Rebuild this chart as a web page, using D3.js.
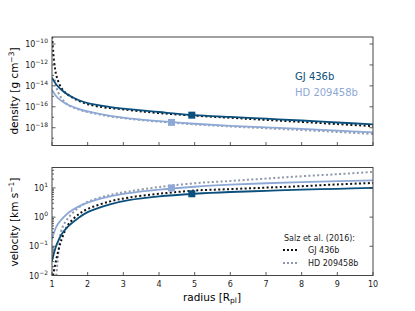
<!DOCTYPE html>
<html>
<head>
<meta charset="utf-8">
<script src="https://cdn.jsdelivr.net/npm/d3@7"></script>
<style>
  body { margin: 0; background: #fff; }
  text { font-family: "DejaVu Sans", sans-serif; }
</style>
</head>
<body>
<svg id="chart" width="415" height="311"></svg>
<script>
// radius grid [R_pl] for the model curves
const radius = [1, 1.13, 1.27, 1.46, 1.74, 2, 2.6, 3.15, 4, 5, 6, 7, 8, 9, 10];

// density, log10 [g cm^-3]
const densGJ = [-13.22, -13.92, -14.4, -14.88, -15.35, -15.65, -16.0, -16.22, -16.5, -16.8, -16.97, -17.14, -17.31, -17.5, -17.68];
const densHD = [-14.4, -15.04, -15.45, -15.83, -16.2, -16.45, -16.85, -17.1, -17.37, -17.62, -17.82, -17.97, -18.12, -18.28, -18.44];

// velocity, log10 [km s^-1]
const velGJ = [-1.5, -0.94, -0.59, -0.31, -0.03, 0.17, 0.43, 0.58, 0.71, 0.8, 0.86, 0.9, 0.94, 0.97, 1.0];
const velHD = [-0.76, -0.31, -0.08, 0.15, 0.36, 0.5, 0.7, 0.82, 0.94, 1.04, 1.11, 1.16, 1.2, 1.23, 1.26];

// Salz et al. (2016) curves, each with its own radius grid
const salzDensGJr = [1.005, 1.02, 1.07, 1.13, 1.27, 1.46, 2, 3.15, 4, 5, 6, 7, 8, 9, 10];
const salzDensGJ = [-9.3, -10.1, -12.0, -13.1, -14.24, -14.88, -15.75, -16.31, -16.6, -16.85, -17.05, -17.25, -17.45, -17.65, -17.85];
const salzDensHDr = [1.08, 1.13, 1.27, 1.46, 1.74, 2, 2.6, 3.15, 4, 5, 6, 7, 8, 9, 10];
const salzDensHD = [-13.4, -14.24, -15.19, -15.85, -16.25, -16.5, -16.9, -17.15, -17.42, -17.68, -17.88, -18.05, -18.22, -18.4, -18.6];
const salzVelGJr = [1.03, 1.13, 1.27, 1.46, 1.74, 2, 2.6, 3.15, 4, 5, 6, 7, 8, 9, 10];
const salzVelGJ = [-2.0, -1.39, -0.76, -0.25, 0.09, 0.28, 0.53, 0.67, 0.8, 0.91, 0.96, 1.01, 1.06, 1.12, 1.17];
const salzVelHDr = [1.12, 1.2, 1.27, 1.46, 1.74, 2, 2.6, 3.15, 4, 5, 6, 7, 8, 9, 10];
const salzVelHD = [-2.0, -1.0, -0.42, -0.02, 0.32, 0.52, 0.75, 0.88, 1.03, 1.16, 1.24, 1.32, 1.4, 1.47, 1.55];

// square markers (sonic point)
const sonicR = [4.92, 4.35];
const sonicDens = [-16.8, -17.49];
const sonicVel = [0.8, 1.0];

const planets = ["GJ 436b", "HD 209458b"];
const xTicks = [1, 2, 3, 4, 5, 6, 7, 8, 9, 10];
const densTicks = [-10, -12, -14, -16, -18];
const densMinor = [-11, -13, -15, -17, -19];
const velTicks = [-2, -1, 0, 1];

const darkBlue = "#0b4f7d", lightBlue = "#8ea8d6", salzGrey = "#8f98aa";

const svg = d3.select("#chart");
const left = 52, right = 373;
const x = d3.scaleLinear().domain([1, 10]).range([left, right]);
const yD = d3.scaleLinear().domain([-19.7, -9.33]).range([145.5, 37]);
const yV = d3.scaleLinear().domain([-2, 1.7]).range([275.5, 167.5]);

function powLabel(sel, e) {
  sel.text("10").append("tspan").attr("dy", -4).style("font-size", "6px").text(String(e).replace("-", "\u2212"));
}

function panel(y, series, ticks, minor, markers) {
  const top = y.range()[1], bot = y.range()[0];
  const g = svg.append("g");
  g.append("clipPath").attr("id", "c" + Math.round(top)).append("rect")
    .attr("x", left).attr("y", top).attr("width", right - left).attr("height", bot - top);

  const plot = g.append("g").attr("clip-path", "url(#c" + Math.round(top) + ")");
  series.forEach(s => {
    const line = d3.line()
      .x((d, i) => x(s.r[i]))
      .y(d => y(d))
      .curve(d3.curveCatmullRom.alpha(0.5));
    plot.append("path").datum(s.values)
      .attr("fill", "none").attr("stroke", s.color)
      .attr("stroke-width", s.dotted ? 2 : 1.8)
      .attr("stroke-dasharray", s.dotted ? "2,2.4" : null)
      .attr("d", line);
  });
  markers.forEach(m => {
    plot.append("rect").attr("x", x(m.r) - 3.5).attr("y", y(m.v) - 3.5)
      .attr("width", 7).attr("height", 7).attr("fill", m.color);
  });

  // ticks, pointing inward
  const tk = g.append("g").attr("stroke", "#333").attr("stroke-width", 0.8);
  xTicks.forEach(t => {
    tk.append("line").attr("x1", x(t)).attr("x2", x(t)).attr("y1", bot).attr("y2", bot - 3.5);
  });
  ticks.forEach(t => {
    tk.append("line").attr("x1", left).attr("x2", left + 3.5).attr("y1", y(t)).attr("y2", y(t));
    tk.append("line").attr("x1", right).attr("x2", right - 3.5).attr("y1", y(t)).attr("y2", y(t));
    g.append("text").attr("x", left - 4).attr("y", y(t) + 3)
      .attr("text-anchor", "end").style("font-size", "8px").attr("fill", "#222")
      .call(powLabel, t);
  });
  minor.filter(t => y(t) > top && y(t) < bot).forEach(t => {
    tk.append("line").attr("x1", left).attr("x2", left + 2).attr("y1", y(t)).attr("y2", y(t));
  });

  g.append("rect").attr("x", left).attr("y", top).attr("width", right - left).attr("height", bot - top)
    .attr("fill", "none").attr("stroke", "#444").attr("stroke-width", 1);
}

// top: density
panel(yD, [
  { r: salzDensHDr, values: salzDensHD, color: salzGrey, dotted: true },
  { r: radius, values: densHD, color: lightBlue },
  { r: salzDensGJr, values: salzDensGJ, color: "#111", dotted: true },
  { r: radius, values: densGJ, color: darkBlue }
], densTicks, densMinor, [
  { r: sonicR[1], v: sonicDens[1], color: lightBlue },
  { r: sonicR[0], v: sonicDens[0], color: darkBlue }
]);

// bottom: velocity
const minorV = [];
velTicks.forEach(e => d3.range(2, 10).forEach(m => minorV.push(e + Math.log10(m))));
panel(yV, [
  { r: salzVelHDr, values: salzVelHD, color: salzGrey, dotted: true },
  { r: radius, values: velHD, color: lightBlue },
  { r: salzVelGJr, values: salzVelGJ, color: "#111", dotted: true },
  { r: radius, values: velGJ, color: darkBlue }
], velTicks, minorV, [
  { r: sonicR[1], v: sonicVel[1], color: lightBlue },
  { r: sonicR[0], v: sonicVel[0], color: darkBlue }
]);

// x tick labels on bottom panel
xTicks.forEach(t => {
  svg.append("text").attr("x", x(t)).attr("y", 287).attr("text-anchor", "middle")
    .style("font-size", "8px").attr("fill", "#222").text(t);
});

// axis labels
const xl = svg.append("text").attr("x", 212).attr("y", 301).attr("text-anchor", "middle").style("font-size", "10.5px");
xl.append("tspan").text("radius [R");
xl.append("tspan").attr("dy", 2).style("font-size", "7.5px").text("pl");
xl.append("tspan").attr("dy", -2).text("]");

const dl = svg.append("text").attr("transform", "translate(18,91) rotate(-90)").attr("text-anchor", "middle").style("font-size", "10.5px");
dl.append("tspan").text("density [g cm");
dl.append("tspan").attr("dy", -4).style("font-size", "7.5px").text("\u22123");
dl.append("tspan").attr("dy", 4).text("]");

const vl = svg.append("text").attr("transform", "translate(18,222) rotate(-90)").attr("text-anchor", "middle").style("font-size", "10.5px");
vl.append("tspan").text("velocity [km s");
vl.append("tspan").attr("dy", -4).style("font-size", "7.5px").text("\u22121");
vl.append("tspan").attr("dy", 4).text("]");

// planet labels in top panel
svg.append("text").attr("x", 295).attr("y", 80).style("font-size", "10px").attr("fill", darkBlue).text(planets[0]);
svg.append("text").attr("x", 295).attr("y", 96).style("font-size", "10px").attr("fill", lightBlue).text(planets[1]);

// legend in bottom panel
const lg = svg.append("g");
lg.append("text").attr("x", 284).attr("y", 241).style("font-size", "8px").attr("fill", "#222").text("Salz et al. (2016):");
[["#111", planets[0], 250], [salzGrey, planets[1], 263]].forEach(([c, name, yy]) => {
  lg.append("line").attr("x1", 283).attr("x2", 297).attr("y1", yy).attr("y2", yy)
    .attr("stroke", c).attr("stroke-width", 2).attr("stroke-dasharray", "2,2");
  lg.append("text").attr("x", 308).attr("y", yy + 3).style("font-size", "8px").attr("fill", "#222").text(name);
});
</script>
</body>
</html>
